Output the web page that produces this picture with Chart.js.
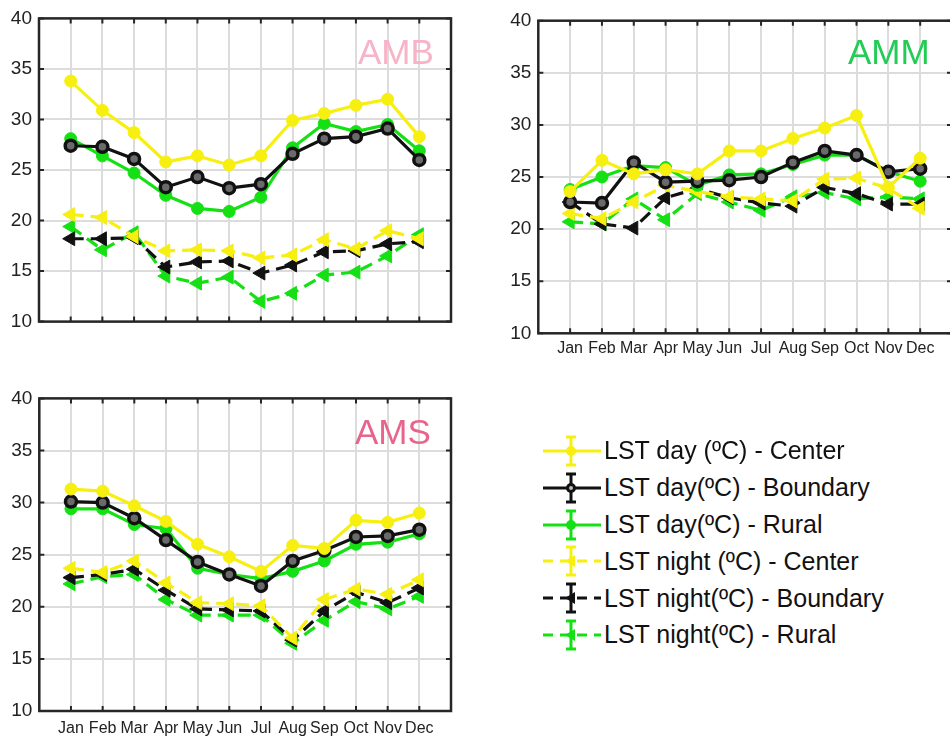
<!DOCTYPE html>
<html>
<head>
<meta charset="utf-8">
<script src="https://cdn.jsdelivr.net/npm/chart.js@4.4.1/dist/chart.umd.min.js"></script>
<style>
html,body{margin:0;padding:0;background:#fff;}
body{width:950px;height:736px;overflow:hidden;position:relative;font-family:'Liberation Sans',Arial,sans-serif;}
.box{position:absolute;}
.box canvas{display:block;}
.title{position:absolute;font-size:35px;line-height:35px;white-space:nowrap;}
#legend{position:absolute;left:540px;top:432.6px;}
.row{display:flex;align-items:center;height:36.8px;font-size:25px;color:#111;white-space:nowrap;}
.row svg{width:64px;height:36px;flex:none;}
</style>
</head>
<body>
<div class="box" style="left:0;top:0;"><canvas id="cAMB" width="460" height="340"></canvas></div>
<div class="box" style="left:490px;top:0;"><canvas id="cAMM" width="472" height="360"></canvas></div>
<div class="box" style="left:0;top:380px;"><canvas id="cAMS" width="460" height="356"></canvas></div>

<div class="title" style="left:358px;top:34px;color:#f7b3c8;">AMB</div>
<div class="title" style="left:848px;top:34px;color:#22cc55;">AMM</div>
<div class="title" style="left:355px;top:414px;color:#e8648c;">AMS</div>

<div id="legend"></div>

<script>
// ---- categories & ticks ----
const months = ['Jan','Feb','Mar','Apr','May','Jun','Jul','Aug','Sep','Oct','Nov','Dec'];
const yTicks = [10, 15, 20, 25, 30, 35, 40];

// ---- series labels ----
const seriesNames = [
  'LST day (ºC) - Center',
  'LST day(ºC) - Boundary',
  'LST day(ºC) - Rural',
  'LST night (ºC) - Center',
  'LST night(ºC) - Boundary',
  'LST night(ºC) - Rural'
];

// ---- AMB ----
const ambDayCenter     = [33.8, 30.9, 28.7, 25.8, 26.4, 25.5, 26.4, 29.9, 30.6, 31.4, 32.0, 28.3];
const ambDayBoundary   = [27.4, 27.3, 26.1, 23.3, 24.3, 23.2, 23.6, 26.6, 28.1, 28.3, 29.1, 26.0];
const ambDayRural      = [28.1, 26.4, 24.7, 22.5, 21.2, 20.9, 22.3, 27.2, 29.6, 28.8, 29.5, 26.9];
const ambNightCenter   = [20.6, 20.3, 18.4, 17.0, 17.1, 17.0, 16.3, 16.6, 18.1, 17.2, 19.0, 18.2];
const ambNightBoundary = [18.2, 18.2, 18.3, 15.4, 15.9, 16.0, 14.8, 15.6, 16.9, 17.0, 17.7, 17.9];
const ambNightRural    = [19.4, 17.1, 18.8, 14.5, 13.8, 14.4, 12.0, 12.8, 14.6, 14.9, 16.5, 18.6];

// ---- AMM ----
const ammDayCenter     = [23.6, 26.6, 25.3, 25.7, 25.3, 27.5, 27.5, 28.7, 29.7, 30.9, 24.0, 26.8];
const ammDayBoundary   = [22.6, 22.5, 26.4, 24.5, 24.6, 24.7, 25.0, 26.4, 27.5, 27.1, 25.5, 25.8];
const ammDayRural      = [23.8, 25.0, 26.1, 25.9, 24.2, 25.2, 25.3, 26.2, 27.1, 27.1, 25.5, 24.6];
const ammNightCenter   = [21.5, 21.0, 22.6, 24.2, 23.6, 23.1, 22.9, 22.7, 24.8, 24.9, 23.9, 22.0];
const ammNightBoundary = [22.6, 20.5, 20.1, 23.0, 23.9, 23.0, 22.5, 22.2, 24.0, 23.4, 22.4, 22.4];
const ammNightRural    = [20.7, 20.5, 22.9, 20.9, 23.4, 22.6, 21.8, 23.1, 23.5, 22.9, 23.1, 22.9];

// ---- AMS ----
const amsDayCenter     = [31.3, 31.1, 29.7, 28.2, 26.0, 24.8, 23.4, 25.9, 25.6, 28.3, 28.1, 29.0];
const amsDayBoundary   = [30.1, 30.0, 28.5, 26.4, 24.3, 23.1, 22.0, 24.4, 25.4, 26.7, 26.8, 27.4];
const amsDayRural      = [29.4, 29.4, 27.9, 27.5, 23.7, 23.1, 22.7, 23.4, 24.4, 26.0, 26.2, 27.0];
const amsNightCenter   = [23.7, 23.3, 24.4, 22.3, 20.4, 20.3, 20.1, 17.0, 20.7, 21.7, 21.2, 22.6];
const amsNightBoundary = [22.8, 23.1, 23.6, 21.6, 19.8, 19.7, 19.6, 16.8, 19.6, 21.4, 20.4, 21.8];
const amsNightRural    = [22.2, 22.9, 23.1, 20.7, 19.2, 19.2, 19.2, 16.5, 18.7, 20.5, 19.8, 21.0];

// ---- styles ----
const YEL = '#f7ef10';
const GRN = '#14e014';
const BLK = '#111111';
const FONT = "'Liberation Sans', Arial, sans-serif";

const styles = [
  {color: YEL, night: false, bg: YEL},
  {color: BLK, night: false, bg: '#6a6a6a'},
  {color: GRN, night: false, bg: GRN},
  {color: YEL, night: true,  bg: YEL},
  {color: BLK, night: true,  bg: BLK},
  {color: GRN, night: true,  bg: GRN}
];

function toPts(arr){ return arr.map((v, i) => ({x: i + 1, y: v})); }

function makeDatasets(list){
  return list.map((arr, k) => {
    const s = styles[k];
    const ds = {
      label: seriesNames[k],
      data: toPts(arr),
      borderColor: s.color,
      backgroundColor: s.bg,
      borderWidth: 3.2,
      tension: 0,
      pointBackgroundColor: s.bg,
      pointBorderColor: s.color,
    };
    if (s.night){
      ds.borderDash = [13, 7];
      ds.pointStyle = 'triangle';
      ds.pointRotation = -90;
      ds.pointRadius = 8;
      ds.pointBorderWidth = 1;
    } else {
      ds.pointStyle = 'circle';
      ds.pointRadius = k === 1 ? 5.5 : 6;
      ds.pointBorderWidth = k === 1 ? 3.5 : 1;
    }
    return ds;
  });
}

const boxPlugin = {
  id: 'matBox',
  afterDatasetsDraw(chart){
    const {ctx, chartArea: a, scales} = chart;
    ctx.save();
    ctx.strokeStyle = '#262626';
    ctx.lineWidth = 2;
    const t = 5;
    ctx.beginPath();
    for (let i = 1; i <= months.length; i++){
      const x = scales.x.getPixelForValue(i);
      ctx.moveTo(x, a.top); ctx.lineTo(x, a.top + t);
      ctx.moveTo(x, a.bottom); ctx.lineTo(x, a.bottom - t);
    }
    yTicks.forEach(v => {
      const y = scales.y.getPixelForValue(v);
      ctx.moveTo(a.left, y); ctx.lineTo(a.left + t, y);
      ctx.moveTo(a.right, y); ctx.lineTo(a.right - t, y);
    });
    ctx.stroke();
    ctx.lineWidth = 2.5;
    ctx.strokeRect(a.left, a.top, a.right - a.left, a.bottom - a.top);
    ctx.restore();
  }
};

function makeChart(id, lists, cfg){
  new Chart(document.getElementById(id), {
    type: 'line',
    data: { datasets: makeDatasets(lists) },
    plugins: [boxPlugin],
    options: {
      responsive: false,
      animation: false,
      events: [],
      layout: { padding: { top: cfg.top, right: cfg.right, left: 0, bottom: 0 } },
      plugins: { legend: { display: false }, tooltip: { enabled: false }, title: { display: false } },
      scales: {
        x: {
          type: 'linear', min: 0, max: months.length + 1,
          afterFit(s){ s.height = cfg.xh; },
          grid: { color: '#dcdcdc', lineWidth: 2, drawTicks: false },
          border: { display: false },
          ticks: {
            display: cfg.showX, stepSize: 1, autoSkip: false, maxRotation: 0, minRotation: 0,
            padding: cfg.xpad, color: '#222', font: { size: 16, family: FONT },
            callback: v => months[v - 1] || ''
          }
        },
        y: {
          min: yTicks[0], max: yTicks[yTicks.length - 1],
          afterFit(s){ s.width = cfg.yw; },
          grid: { color: '#dcdcdc', lineWidth: 2, drawTicks: false },
          border: { display: false },
          ticks: { stepSize: 5, padding: 7, color: '#222', font: { size: 19, family: FONT } }
        }
      }
    }
  });
}

makeChart('cAMB', [ambDayCenter, ambDayBoundary, ambDayRural, ambNightCenter, ambNightBoundary, ambNightRural],
  { top: 17, right: 7.5, xh: 9, yw: 39, showX: false, xpad: 0 });
makeChart('cAMM', [ammDayCenter, ammDayBoundary, ammDayRural, ammNightCenter, ammNightBoundary, ammNightRural],
  { top: 20.7, right: 10, xh: 26.7, yw: 48.3, showX: true, xpad: 6 });
makeChart('cAMS', [amsDayCenter, amsDayBoundary, amsDayRural, amsNightCenter, amsNightBoundary, amsNightRural],
  { top: 17.3, right: 7.5, xh: 25, yw: 39.3, showX: true, xpad: 8 });

// ---- HTML legend ----
const NS = 'http://www.w3.org/2000/svg';
const legend = document.getElementById('legend');
seriesNames.forEach((name, k) => {
  const s = styles[k];
  const row = document.createElement('div');
  row.className = 'row';
  const svg = document.createElementNS(NS, 'svg');
  svg.setAttribute('viewBox', '0 0 64 36');
  const mk = (tag, attrs) => { const e = document.createElementNS(NS, tag); for (const a in attrs) e.setAttribute(a, attrs[a]); svg.appendChild(e); return e; };
  const cy = 18, cx = 31;
  mk('line', {x1: 3, y1: cy, x2: 61, y2: cy, stroke: s.color, 'stroke-width': 3, 'stroke-dasharray': s.night ? '10 7' : 'none'});
  mk('line', {x1: cx, y1: cy - 14, x2: cx, y2: cy + 14, stroke: s.color, 'stroke-width': 3});
  mk('line', {x1: cx - 5, y1: cy - 14, x2: cx + 5, y2: cy - 14, stroke: s.color, 'stroke-width': 3});
  mk('line', {x1: cx - 5, y1: cy + 14, x2: cx + 5, y2: cy + 14, stroke: s.color, 'stroke-width': 3});
  if (s.night){
    mk('polygon', {points: `${cx-6},${cy} ${cx+4},${cy-6} ${cx+4},${cy+6}`, fill: s.color});
  } else {
    mk('circle', {cx: cx, cy: cy, r: 5, fill: s.color});
    if (k === 1) mk('circle', {cx: cx, cy: cy, r: 2, fill: '#bbb'});
  }
  row.appendChild(svg);
  const span = document.createElement('span');
  span.textContent = name;
  row.appendChild(span);
  legend.appendChild(row);
});
</script>
</body>
</html>
